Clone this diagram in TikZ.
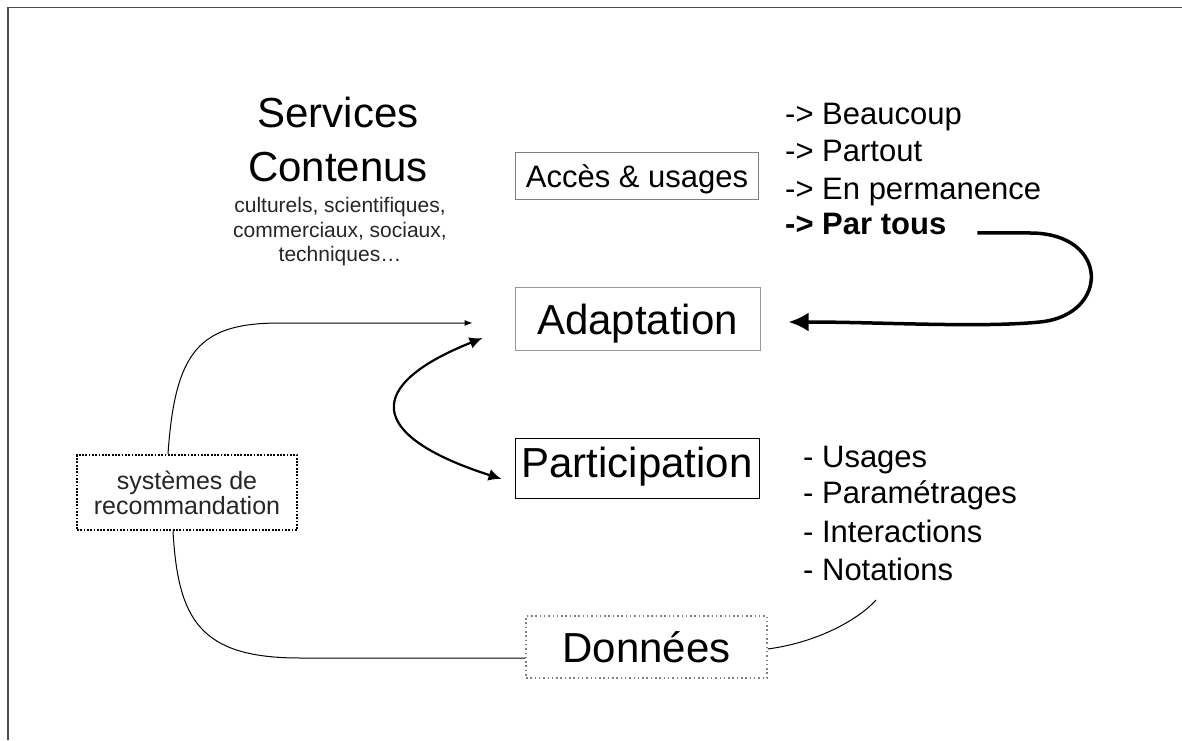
\documentclass[tikz,border=0pt]{standalone}
\usepackage{fontspec}
\setmainfont{Liberation Sans}
\usetikzlibrary{arrows.meta}

\tikzset{
  box/.style={draw=gray, line width=1pt, inner sep=0pt, text depth=0pt},
  dotbox/.style={draw=gray, line width=1.5pt, dash pattern=on 1.5pt off 2.8pt, inner sep=0pt},
  big/.style={font=\fontsize{42}{50}\selectfont},
  mid/.style={font=\fontsize{31}{37}\selectfont},
  item/.style={mid, anchor=base west, inner sep=0pt},
  link/.style={line width=1pt, -{Latex[length=8pt,width=6pt]}},
}

\begin{document}
\begin{tikzpicture}[x=1pt,y=1pt]
    \useasboundingbox (0,0) rectangle (1182,740);
    \draw[gray!60!black, line width=1.3pt] (8,0) -- (8,732.5) -- (1182,732.5);

    % left titles
    \node[big, anchor=base, inner sep=0pt] (services) at (338,612) {Services};
    \node[big, anchor=base, inner sep=0pt] (contenus) at (338,558) {Contenus};
    \node[font=\fontsize{21}{24.5}\selectfont, align=center, text=black!85, inner sep=0pt] (domaines) at (340,508)
        {culturels, scientifiques,\\commerciaux, sociaux,\\techniques…};

    % central boxes
    \node[box, mid, minimum width=243pt, minimum height=47pt] (acces) at (637,564) {Accès \& usages};
    \node[box, big, draw=gray!80, minimum width=245pt, minimum height=62pt] (adaptation) at (637.5,421) {Adaptation};
    \node[box, big, draw=black, text depth=12pt, minimum width=244pt, minimum height=60pt] (participation) at (637,272) {Participation};
    \node[dotbox, big, text depth=0pt, minimum width=241pt, minimum height=62pt] (donnees) at (646.5,93) {Données};
    \node[dotbox, draw=black, line width=2pt, dash pattern=on 1.8pt off 1.5pt,
          font=\fontsize{25}{25}\selectfont, align=center, text=black!85,
          minimum width=220pt, minimum height=75pt] (reco) at (187,247.5) {systèmes de\\recommandation};

    % lists on the right
    \node[item] (beaucoup) at (785,615) {-> Beaucoup};
    \node[item] (partout) at (785,578) {-> Partout};
    \node[item] (permanence) at (785,540) {-> En permanence};
    \node[item, font={\fontsize{31}{37}\selectfont\bfseries}] (partous) at (785,505) {-> Par tous};

    \node[item] (usages) at (803,273) {- Usages};
    \node[item] (parametrages) at (803,237) {- Paramétrages};
    \node[item] (interactions) at (803,198) {- Interactions};
    \node[item] (notations) at (803,160) {- Notations};

    % arrows
    \draw[line width=3.5pt, -{Latex[length=20pt,width=19pt]}, shorten >=28pt]
        ([xshift=31pt,yshift=2pt]partous.base east) -- (1030,507)
        .. controls (1110,507) and (1110,425) .. (1040,418)
        .. controls (980,412) and (880,418) .. ([yshift=-3pt]adaptation.east);
    \draw[line width=2.2pt, {Latex[length=13pt,width=12pt]}-{Latex[length=13pt,width=12pt]}]
        ([xshift=-32pt,yshift=-19pt]adaptation.west) .. controls (365,355) and (365,305)
        .. ([xshift=-13pt,yshift=-11pt]participation.west);
    \draw[link] ([xshift=-19pt]reco.north) .. controls (175,390) and (200,417) .. (280,417)
        -- ([xshift=-42pt,yshift=-4pt]adaptation.west);
    \draw[line width=1pt] ([xshift=-14pt]reco.south) .. controls (178,120) and (200,82) .. (300,82)
        -- ([yshift=-11pt]donnees.west);
    \coordinate (bout) at (876,140);
    \draw[line width=1pt] ([yshift=-2pt]donnees.east) .. controls (820,98) and (860,122) .. (bout);
\end{tikzpicture}
\end{document}
